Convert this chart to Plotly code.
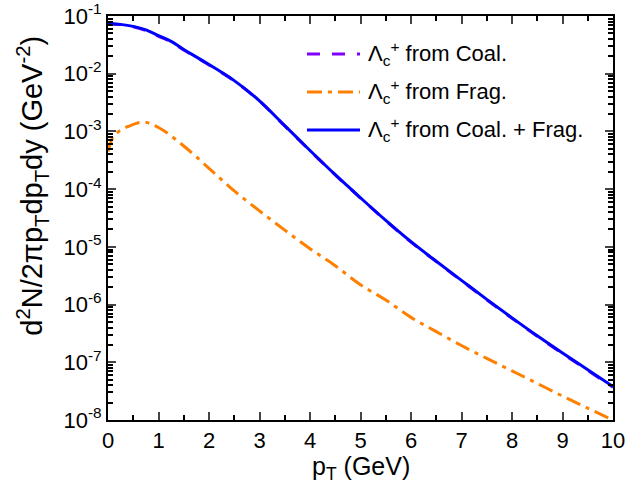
import plotly.graph_objects as go

# pT grid (GeV)
pt_total = [0, 0.25, 0.5, 0.75, 1.0, 1.25, 1.5, 2.0, 2.5, 3.0, 3.5, 4.0, 4.5, 5.0,
            5.5, 6.0, 6.5, 7.0, 7.5, 8.0, 8.5, 9.0, 9.5, 10.0]
# Lambda_c^+ from Coal. + Frag.
total = [0.0741, 0.0716, 0.0661, 0.0575, 0.0457, 0.0363, 0.0263, 0.01445, 0.00759, 0.00339,
         0.00126, 4.68e-4, 1.78e-4, 7.08e-5, 2.88e-5, 1.23e-5, 5.62e-6, 2.63e-6,
         1.23e-6, 5.89e-7, 2.88e-7, 1.45e-7, 7.41e-8, 3.80e-8]
# Lambda_c^+ from Coal.
coal = [0.0736, 0.0709, 0.0648, 0.0561, 0.0445, 0.0355, 0.0257, 0.0142, 0.0075, 0.00335,
        0.00124, 4.62e-4, 1.76e-4, 7.0e-5, 2.85e-5, 1.21e-5, 5.55e-6, 2.59e-6,
        1.21e-6, 5.78e-7, 2.82e-7, 1.42e-7, 7.25e-8, 3.70e-8]

pt_frag = [0, 0.1, 0.2, 0.4, 0.7, 1.0, 1.5, 2.0, 2.5, 3.0, 3.5, 4.0, 4.5, 5.0,
           5.5, 6.0, 6.5, 7.0, 7.5, 8.0, 8.5, 9.0, 9.5, 10.0]
# Lambda_c^+ from Frag.
frag = [4.5e-4, 8.0e-4, 9.8e-4, 1.22e-3, 1.45e-3, 1.17e-3, 5.6e-4, 2.3e-4, 9.3e-5,
        4.2e-5, 1.95e-5, 9.3e-6, 4.7e-6, 2.2e-6, 1.2e-6, 6.0e-7, 3.4e-7, 1.95e-7,
        1.17e-7, 7.1e-8, 4.3e-8, 2.6e-8, 1.6e-8, 1.0e-8]

x_ticks = [0, 1, 2, 3, 4, 5, 6, 7, 8, 9, 10]
y_exps = [-8, -7, -6, -5, -4, -3, -2, -1]
y_ticks = [10.0 ** e for e in y_exps]
y_ticktext = ["10<sup>%d</sup>" % e for e in y_exps]
y_minor = [k * 10.0 ** e for e in y_exps[:-1] for k in range(2, 10)]

names = ["Λ<sub>c</sub><sup>+</sup> from Coal.",
         "Λ<sub>c</sub><sup>+</sup> from Frag.",
         "Λ<sub>c</sub><sup>+</sup> from Coal. + Frag."]
colors = ["#8000FF", "#FF8000", "#0000FF"]
dashes = ["13px,12px", "15px,6px,4px,6px", "solid"]

fig = go.Figure()
fig.add_trace(go.Scatter(x=pt_total, y=coal, mode="lines", name=names[0],
                         line=dict(color=colors[0], width=3, dash=dashes[0], shape="spline")))
fig.add_trace(go.Scatter(x=pt_frag, y=frag, mode="lines", name=names[1],
                         line=dict(color=colors[1], width=3, dash=dashes[1], shape="spline")))
fig.add_trace(go.Scatter(x=pt_total, y=total, mode="lines", name=names[2],
                         line=dict(color=colors[2], width=3, dash=dashes[2], shape="spline")))

# hand-placed legend (longer line samples than Plotly's built-in legend)
legend_rows_y = [0.906, 0.812, 0.718]
shapes = []
annotations = []
for name, col, dsh, ly in zip(names, colors, dashes, legend_rows_y):
    shapes.append(dict(type="line", xref="paper", yref="paper", x0=0.394, x1=0.499,
                       y0=ly, y1=ly, line=dict(color=col, width=3, dash=dsh)))
    annotations.append(dict(text=name, xref="paper", yref="paper", x=0.511, y=ly,
                            xanchor="left", yanchor="middle", showarrow=False,
                            font=dict(size=22)))

annotations.append(dict(text="p<sub>T</sub> (GeV)", xref="paper", yref="paper", x=0.5, y=-0.118,
                        xanchor="center", yanchor="middle", showarrow=False, font=dict(size=25)))
annotations.append(dict(text="d<sup>2</sup>N/2πp<sub>T</sub>dp<sub>T</sub>dy (GeV<sup>-2</sup>)",
                        xref="paper", yref="paper", x=-0.1505, y=0.58, textangle=-90,
                        xanchor="center", yanchor="middle", showarrow=False, font=dict(size=29)))

font_family = "Liberation Sans, Arial, sans-serif"
fig.update_layout(
    width=626, height=494,
    margin=dict(l=108, r=13, t=16, b=74, autoexpand=False),
    paper_bgcolor="white", plot_bgcolor="white",
    font=dict(family=font_family, size=22, color="black"),
    showlegend=False,
    xaxis=dict(range=[0, 10], tickvals=x_ticks, ticks="inside", ticklen=8, tickwidth=2,
               showline=True, linewidth=2, linecolor="black", mirror="ticks",
               showgrid=False, zeroline=False, automargin=False,
               ticklabeloverflow="allow",
               minor=dict(tickvals=[0.5 + i for i in range(10)], ticks="inside",
                          ticklen=5, tickwidth=2, tickcolor="black", showgrid=False),
               tickfont=dict(size=22)),
    yaxis=dict(type="log", range=[-8, -1], tickmode="array", tickvals=y_ticks,
               ticktext=y_ticktext, ticks="inside", ticklen=8, tickwidth=2,
               showline=True, linewidth=2, linecolor="black", mirror="ticks",
               showgrid=False, zeroline=False, automargin=False,
               ticklabeloverflow="allow",
               minor=dict(tickmode="array", tickvals=y_minor, ticks="inside",
                          ticklen=5, tickwidth=1.5, tickcolor="black", showgrid=False),
               tickfont=dict(size=22)),
    shapes=shapes,
    annotations=annotations,
)

# remove the default page margin so the 626x494 figure fills the window exactly
fig.write_html("out.html", config={"displayModeBar": False},
               post_script="document.body.style.margin='0';")
